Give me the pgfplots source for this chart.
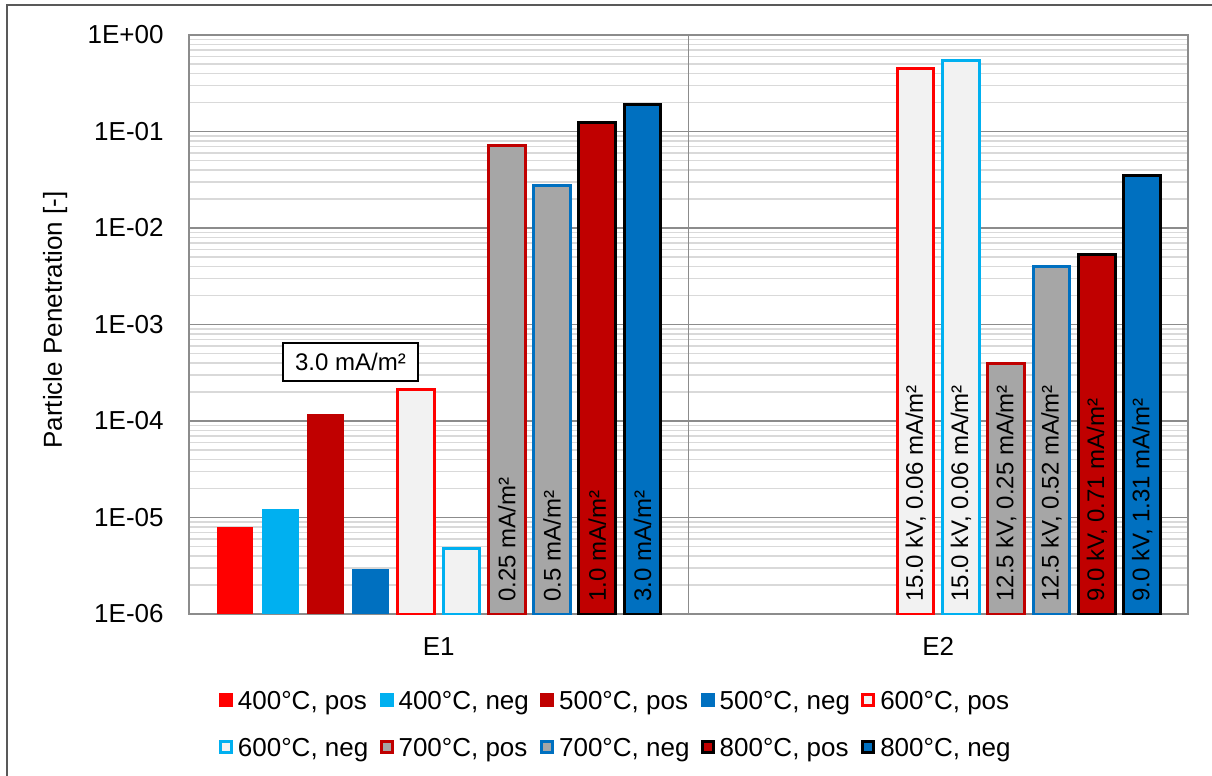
\documentclass[border=0pt]{standalone}
\usepackage{fontspec}
\setmainfont{Liberation Sans}
\usepackage{pgfplots}
\pgfplotsset{compat=1.18}
\definecolor{cRed}{HTML}{FF0000}
\definecolor{cCyan}{HTML}{00B0F0}
\definecolor{cDRed}{HTML}{C00000}
\definecolor{cBlue}{HTML}{0070C0}
\definecolor{cLight}{HTML}{F2F2F2}
\definecolor{cGray}{HTML}{A6A6A6}
\definecolor{gMaj}{HTML}{8C8C8C}
\definecolor{gMin}{HTML}{D9D9D9}
\definecolor{frameC}{HTML}{595959}
\newcommand{\fa}{\fontsize{13bp}{15.6bp}\selectfont}
\newcommand{\fb}{\fontsize{12bp}{14.4bp}\selectfont}
\tikzset{barlab/.style={rotate=90, anchor=west, inner sep=0pt, font=\fb, text=black}}
\pgfplotsset{
  solidbar/.style={draw=none, fill=#1, bar shift=0pt,
    legend image code/.code={\fill[##1] (0bp,-3.5bp) rectangle (7bp,3.5bp);}},
  edgebar/.style 2 args={draw=#1, fill=#2, line width=1.5bp, bar shift=0pt,
    legend image code/.code={\draw[##1, line width=1.5bp] (0.75bp,-2.75bp) rectangle (6.25bp,2.75bp);}},
}
\begin{document}
\begin{tikzpicture}
\path[use as bounding box] (0,0) rectangle (606bp,388bp);
\draw[frameC, line width=1bp] (3.5bp,-5bp) -- (3.5bp,385.25bp) -- (615bp,385.25bp);
\begin{axis}[
  at={(94.5bp,81bp)}, anchor=south west,
  scale only axis, width=499.5bp, height=289.5bp,
  ybar, bar width=18.35bp,
  ymode=log, ymin=1e-6, ymax=1, log origin y=infty,
  xmin=0.5, xmax=2.5,
  xtick={1,2}, xticklabels={E1,E2},
  extra x ticks={1.5}, extra x tick labels={},
  extra x tick style={grid=major, major grid style={gMaj, line width=0.9bp}},
  ytick={1e-6,1e-5,1e-4,1e-3,1e-2,1e-1,1},
  yticklabels={1E-06,1E-05,1E-04,1E-03,1E-02,1E-01,1E+00},
  minor ytick={2e-6,3e-6,4e-6,5e-6,6e-6,7e-6,8e-6,9e-6,
               2e-5,3e-5,4e-5,5e-5,6e-5,7e-5,8e-5,9e-5,
               2e-4,3e-4,4e-4,5e-4,6e-4,7e-4,8e-4,9e-4,
               2e-3,3e-3,4e-3,5e-3,6e-3,7e-3,8e-3,9e-3,
               2e-2,3e-2,4e-2,5e-2,6e-2,7e-2,8e-2,9e-2,
               2e-1,3e-1,4e-1,5e-1,6e-1,7e-1,8e-1,9e-1},
  ymajorgrids, yminorgrids,
  major grid style={gMaj, line width=0.9bp},
  minor grid style={gMin, line width=0.75bp},
  major tick length=0pt, minor tick length=0pt,
  axis line style={gMaj, line width=0.9bp},
  xticklabel style={font=\fa, inner sep=0pt, anchor=base, yshift=-20.5bp},
  yticklabel style={font=\fa, inner sep=0pt, anchor=east, xshift=-12.5bp},
  ylabel={Particle Penetration [-]},
  ylabel style={font=\fa, inner sep=0pt, at={(axis description cs:-0.1341,0.508)}, anchor=center},
  legend columns=5,
  legend style={font=\fa, draw=none, fill=none, inner sep=0pt, outer sep=0pt,
    at={(axis description cs:0.0300,-0.1325)}, anchor=north west,
    nodes={inner sep=0pt, text height=9.3bp, text depth=0pt},
    row sep=14.2bp,
    /tikz/every odd column/.append style={column sep=2.5bp},
    /tikz/every even column/.append style={column sep=5.6bp}},
  legend cell align=left,
]
% 400 pos
\addplot[solidbar=cRed] coordinates {(0.5919,8.0e-6)};
% 400 neg
\addplot[solidbar=cCyan] coordinates {(0.6826,1.22e-5)};
% 500 pos
\addplot[solidbar=cDRed] coordinates {(0.7733,1.18e-4)};
% 500 neg
\addplot[solidbar=cBlue] coordinates {(0.8640,2.95e-6)};
% 600 pos
\addplot[edgebar={cRed}{cLight}] coordinates {(0.9547,2.1e-4) (1.9547,0.455)};
% 600 neg
\addplot[edgebar={cCyan}{cLight}] coordinates {(1.0454,4.8e-6) (2.0454,0.538)};
% 700 pos
\addplot[edgebar={cDRed}{cGray}] coordinates {(1.1361,0.0724) (2.1361,3.9e-4)};
% 700 neg
\addplot[edgebar={cBlue}{cGray}] coordinates {(1.2268,0.0279) (2.2268,4.0e-3)};
% 800 pos
\addplot[edgebar={black}{cDRed}] coordinates {(1.3175,0.124) (2.3175,5.3e-3)};
% 800 neg
\addplot[edgebar={black}{cBlue}] coordinates {(1.4082,0.189) (2.4082,0.0346)};
\legend{400°C{,} pos,400°C{,} neg,500°C{,} pos,500°C{,} neg,600°C{,} pos,600°C{,} neg,700°C{,} pos,700°C{,} neg,800°C{,} pos,800°C{,} neg}
\node[yshift=6bp, barlab] at (axis cs:1.1361,1e-6) {0.25 mA/m²};
\node[yshift=6bp, barlab] at (axis cs:1.2268,1e-6) {0.5 mA/m²};
\node[yshift=6bp, barlab] at (axis cs:1.3175,1e-6) {1.0 mA/m²};
\node[yshift=6bp, barlab] at (axis cs:1.4082,1e-6) {3.0 mA/m²};
\node[yshift=6bp, barlab] at (axis cs:1.9547,1e-6) {15.0 kV, 0.06 mA/m²};
\node[yshift=6bp, barlab] at (axis cs:2.0454,1e-6) {15.0 kV, 0.06 mA/m²};
\node[yshift=6bp, barlab] at (axis cs:2.1361,1e-6) {12.5 kV, 0.25 mA/m²};
\node[yshift=6bp, barlab] at (axis cs:2.2268,1e-6) {12.5 kV, 0.52 mA/m²};
\node[yshift=6bp, barlab] at (axis cs:2.3175,1e-6) {9.0 kV, 0.71 mA/m²};
\node[yshift=6bp, barlab] at (axis cs:2.4082,1e-6) {9.0 kV, 1.31 mA/m²};
\node[draw=black, fill=white, line width=0.75bp, inner sep=0pt, minimum width=67.5bp, minimum height=19bp, font=\fb] at (axis cs:0.8233,4.09e-4) {3.0 mA/m²};
\end{axis}
\end{tikzpicture}
\end{document}
